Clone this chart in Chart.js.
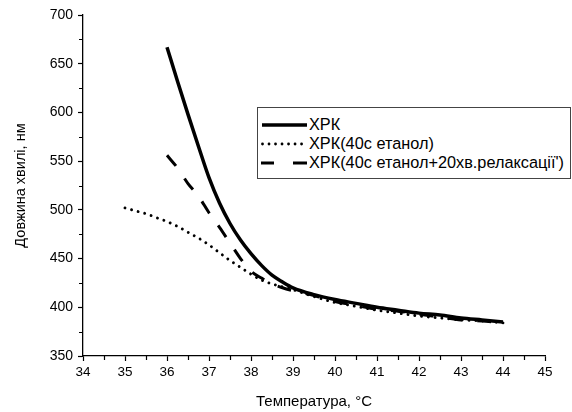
<!DOCTYPE html>
<html>
<head>
<meta charset="utf-8">
<script src="https://cdn.jsdelivr.net/npm/chart.js@4/dist/chart.umd.min.js"></script>
<style>
    body { margin: 0; background: #fff; }
    #wrap { position: relative; width: 572px; height: 412px; }
    #legend {
        position: absolute; left: 257px; top: 107px; width: 314px; height: 72px;
        border: 1.3px solid #444; background: #fff; box-sizing: border-box;
        font-family: 'Liberation Sans', Arial, sans-serif; font-size: 16.3px; color: #000;
        padding-top: 7px; white-space: nowrap;
    }
    .row { height: 19px; display: flex; align-items: center; }
    .row svg { margin-left: 3px; margin-right: 1px; flex: none; }
</style>
</head>
<body>
<div id="wrap">
    <canvas id="chart" width="572" height="412"></canvas>
    <div id="legend">
        <div class="row"><svg width="47" height="8"><line x1="1" y1="4" x2="46" y2="4" stroke="#000" stroke-width="3.5"/></svg>ХРК</div>
        <div class="row"><svg width="47" height="8"><line x1="1.5" y1="4" x2="46" y2="4" stroke="#000" stroke-width="2.8" stroke-linecap="round" stroke-dasharray="0.01 6.5"/></svg>ХРК(40с етанол)</div>
        <div class="row"><svg width="47" height="8"><line x1="0" y1="4" x2="46" y2="4" stroke="#000" stroke-width="3" stroke-dasharray="13 19 14"/></svg>ХРК(40с етанол+20хв.релаксації')</div>
    </div>
</div>
<script>
document.addEventListener('DOMContentLoaded', function() {
    // Data
    const temps = [35, 35.25, 35.5, 35.75, 36, 36.25, 36.5, 36.75, 37, 37.25, 37.5, 37.75, 38,
                   38.25, 38.5, 38.75, 39, 39.5, 40, 40.5, 41, 41.5, 42, 42.5, 43, 43.5, 44];
    const xrk = [null, null, null, null, 667, 632, 598, 565, 533, 507, 486, 469, 455,
                 443, 433, 426, 420, 413, 408, 404, 400, 397, 394, 392, 389, 387, 385];
    const xrkEthanol = [502, 499, 496, 492, 488, 483, 477, 471, 464, 456, 448, 441, 434,
                        428, 424, 421, 418, 411, 405, 401, 397, 394, 391, 389, 387, 386, 384];
    const xrkRelax = [null, null, null, null, 556, 543, 527, 514, 497, 482, 466, 450, 437,
                      430, 424, 420, 417, 412, 406, 402, 398, 396, 393, 390, 387, 386, 384];

    const xTicks = [34, 35, 36, 37, 38, 39, 40, 41, 42, 43, 44, 45];
    const yTicks = [350, 400, 450, 500, 550, 600, 650, 700];

    const toPoints = arr => temps.map((t, i) => ({ x: t, y: arr[i] }));

    Chart.defaults.font.family = "'Liberation Sans', Arial, sans-serif";
    Chart.defaults.color = '#000';

    // small unlabelled ticks halfway between the major ones
    const minorTicks = {
        id: 'minorTicks',
        afterDraw(chart) {
            const { ctx, scales: { x, y } } = chart;
            ctx.save();
            ctx.strokeStyle = '#000';
            ctx.lineWidth = 1.2;
            ctx.beginPath();
            for (let i = 0; i < xTicks.length - 1; i++) {
                const px = Math.round(x.getPixelForValue((xTicks[i] + xTicks[i + 1]) / 2)) + 0.5;
                ctx.moveTo(px, x.top);
                ctx.lineTo(px, x.top + 4);
            }
            for (let i = 0; i < yTicks.length - 1; i++) {
                const py = Math.round(y.getPixelForValue((yTicks[i] + yTicks[i + 1]) / 2)) + 0.5;
                ctx.moveTo(y.right, py);
                ctx.lineTo(y.right - 4, py);
            }
            ctx.stroke();
            ctx.restore();
        }
    };

    new Chart(document.getElementById('chart'), {
        type: 'line',
        data: {
            datasets: [
                {
                    label: 'ХРК',
                    data: toPoints(xrk),
                    borderColor: '#000',
                    borderWidth: 3.5,
                    pointRadius: 0,
                    cubicInterpolationMode: 'monotone'
                },
                {
                    label: 'ХРК(40с етанол)',
                    data: toPoints(xrkEthanol),
                    borderColor: '#000',
                    borderWidth: 2.9,
                    borderDash: [0.01, 6.8],
                    borderCapStyle: 'round',
                    pointRadius: 0,
                    cubicInterpolationMode: 'monotone'
                },
                {
                    label: "ХРК(40с етанол+20хв.релаксації')",
                    data: toPoints(xrkRelax),
                    borderColor: '#000',
                    borderWidth: 3,
                    borderDash: [14, 15],
                    pointRadius: 0,
                    cubicInterpolationMode: 'monotone'
                }
            ]
        },
        options: {
            responsive: false,
            animation: false,
            spanGaps: false,
            layout: { padding: { top: 15, right: 27, left: 0, bottom: 0 } },
            plugins: {
                legend: { display: false },
                tooltip: { enabled: false }
            },
            scales: {
                x: {
                    type: 'linear',
                    min: 34,
                    max: 45,
                    afterFit: scale => { scale.height = 56; },
                    afterBuildTicks: scale => { scale.ticks = xTicks.map(v => ({ value: v })); },
                    ticks: { font: { size: 13.5 }, padding: 3, maxRotation: 0 },
                    grid: { drawOnChartArea: false, tickLength: 5, tickColor: '#000', tickWidth: 1.2 },
                    border: { display: true, color: '#000', width: 1.3 },
                    title: {
                        display: true,
                        text: 'Температура, °C',
                        font: { size: 15 },
                        padding: { top: 0, bottom: 1 }
                    }
                },
                y: {
                    min: 350,
                    max: 700,
                    afterFit: scale => { scale.width = 83; },
                    afterBuildTicks: scale => { scale.ticks = yTicks.map(v => ({ value: v })); },
                    ticks: { font: { size: 14 }, padding: 5 },
                    grid: { drawOnChartArea: false, tickLength: 5, tickColor: '#000', tickWidth: 1.2 },
                    border: { display: true, color: '#000', width: 1.3 },
                    title: {
                        display: true,
                        text: 'Довжина хвилі, нм',
                        font: { size: 14.5 },
                        padding: { top: 12, bottom: 0 }
                    }
                }
            }
        },
        plugins: [minorTicks]
    });
});
</script>
</body>
</html>
